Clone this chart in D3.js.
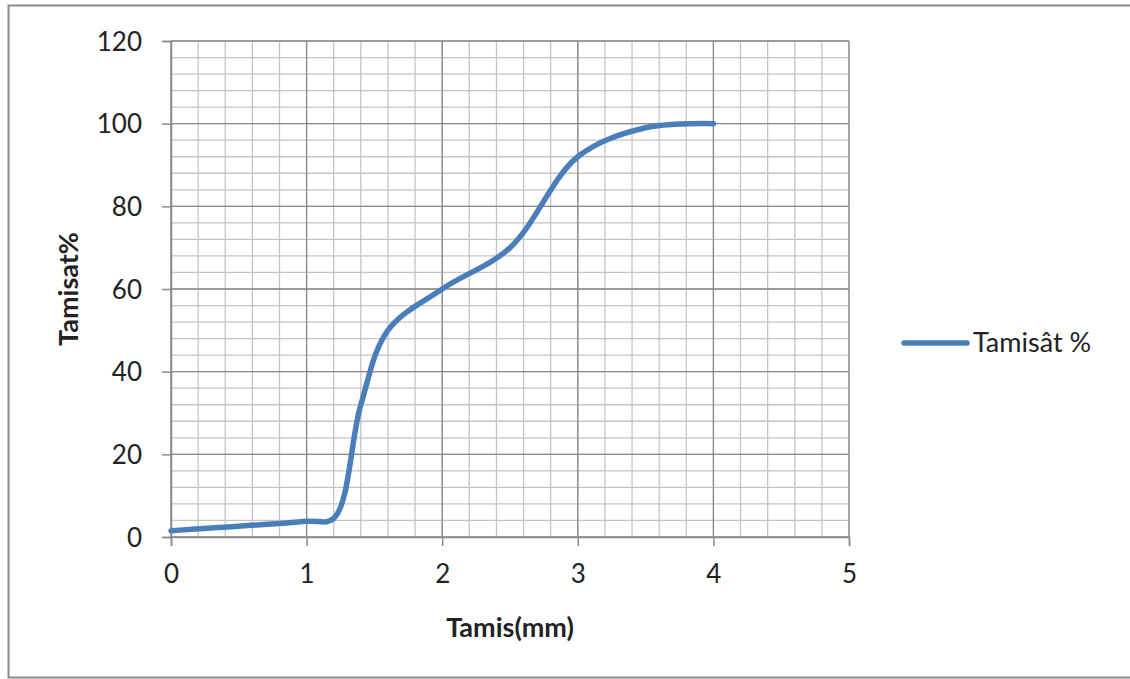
<!DOCTYPE html>
<html>
<head>
<meta charset="utf-8">
<script src="https://cdn.jsdelivr.net/npm/d3@7"></script>
<style>
  html, body { margin: 0; padding: 0; background: #fff; }
  svg { display: block; }
  text { font-family: Lato, "Open Sans", "Liberation Sans", sans-serif; fill: #222; }
</style>
</head>
<body>
<svg id="chart" width="1130" height="679"></svg>
<script>
// Sieve size (mm) and cumulative passing (%)
const sieveSizes = [0, 1, 1.2, 1.4, 1.6, 2, 2.5, 3, 3.5, 4];
const passing    = [1.5, 3.8, 4.5, 32, 50, 60, 70, 92, 99.0, 100];

const xTicks = [0, 1, 2, 3, 4, 5];
const yTicks = [0, 20, 40, 60, 80, 100, 120];
const seriesName = "Tamisât %";

const svg = d3.select("#chart");
const W = 1130, H = 679;
const plot = { left: 171, right: 849, top: 41, bottom: 537 };
const tickFont = "26px";
const titleFont = "27px";

// chart frame (right edge runs past the window)
svg.append("rect")
  .attr("x", 8.5).attr("y", 5.5)
  .attr("width", W).attr("height", H - 7)
  .attr("fill", "#fff").attr("stroke", "#8c8c8c").attr("stroke-width", 2);

const x = d3.scaleLinear().domain([0, 5]).range([plot.left, plot.right]);
const y = d3.scaleLinear().domain([0, 120]).range([plot.bottom, plot.top]);

// minor grid
const minorX = d3.range(0, 5.0001, 0.2);
const minorY = d3.range(0, 120.0001, 4);
const grid = svg.append("g");
grid.selectAll(".mx").data(minorX).enter().append("line")
  .attr("x1", d => x(d)).attr("x2", d => x(d))
  .attr("y1", plot.top).attr("y2", plot.bottom)
  .attr("stroke", "#c4c4c4").attr("stroke-width", 1.3);
grid.selectAll(".my").data(minorY).enter().append("line")
  .attr("x1", plot.left).attr("x2", plot.right)
  .attr("y1", d => y(d)).attr("y2", d => y(d))
  .attr("stroke", "#c4c4c4").attr("stroke-width", 1.3);

// major grid
grid.selectAll(".Mx").data(xTicks).enter().append("line")
  .attr("x1", d => x(d)).attr("x2", d => x(d))
  .attr("y1", plot.top).attr("y2", plot.bottom)
  .attr("stroke", "#8a8a8a").attr("stroke-width", 1.3);
grid.selectAll(".My").data(yTicks).enter().append("line")
  .attr("x1", plot.left).attr("x2", plot.right)
  .attr("y1", d => y(d)).attr("y2", d => y(d))
  .attr("stroke", "#8a8a8a").attr("stroke-width", 1.3);

// axes
const xAxis = svg.append("g")
  .attr("transform", `translate(0,${plot.bottom})`)
  .call(d3.axisBottom(x).tickValues(xTicks).tickFormat(d3.format("d")).tickSize(9).tickPadding(19));
const yAxis = svg.append("g")
  .attr("transform", `translate(${plot.left},0)`)
  .call(d3.axisLeft(y).tickValues(yTicks).tickFormat(d3.format("d")).tickSize(9).tickPadding(20));

[xAxis, yAxis].forEach(a => {
  a.select(".domain").attr("stroke", "#8a8a8a").attr("stroke-width", 1.5);
  a.selectAll(".tick line").attr("stroke", "#8a8a8a").attr("stroke-width", 1.5);
  a.selectAll(".tick text")
    .style("font-family", "Lato, 'Open Sans', sans-serif")
    .style("font-size", tickFont).attr("fill", "#222");
});
yAxis.selectAll(".tick text").attr("dy", "0.35em");

// data line, smoothed
const line = d3.line()
  .x((d, i) => x(sieveSizes[i]))
  .y(d => y(d))
  .curve(d3.curveCatmullRom.alpha(0.5));

svg.append("path")
  .datum(passing)
  .attr("d", line)
  .attr("fill", "none")
  .attr("stroke", "#4a7ebb")
  .attr("stroke-width", 5.5)
  .attr("stroke-linecap", "round")
  .attr("stroke-linejoin", "round");

// axis titles
svg.append("text")
  .attr("x", 510).attr("y", 637)
  .attr("text-anchor", "middle")
  .style("font-size", titleFont).style("font-weight", "bold")
  .text("Tamis(mm)");

svg.append("text")
  .attr("transform", `translate(78,${(plot.top + plot.bottom) / 2}) rotate(-90)`)
  .attr("text-anchor", "middle")
  .style("font-size", titleFont).style("font-weight", "bold")
  .text("Tamisat%");

// legend
const lg = svg.append("g").attr("transform", "translate(904,343)");
lg.append("line")
  .attr("x1", 0).attr("x2", 63).attr("y1", 0).attr("y2", 0)
  .attr("stroke", "#4a7ebb").attr("stroke-width", 5.5).attr("stroke-linecap", "round");
lg.append("text")
  .attr("x", 69).attr("y", 0).attr("dy", "0.35em")
  .style("font-size", titleFont)
  .text(seriesName);
</script>
</body>
</html>
